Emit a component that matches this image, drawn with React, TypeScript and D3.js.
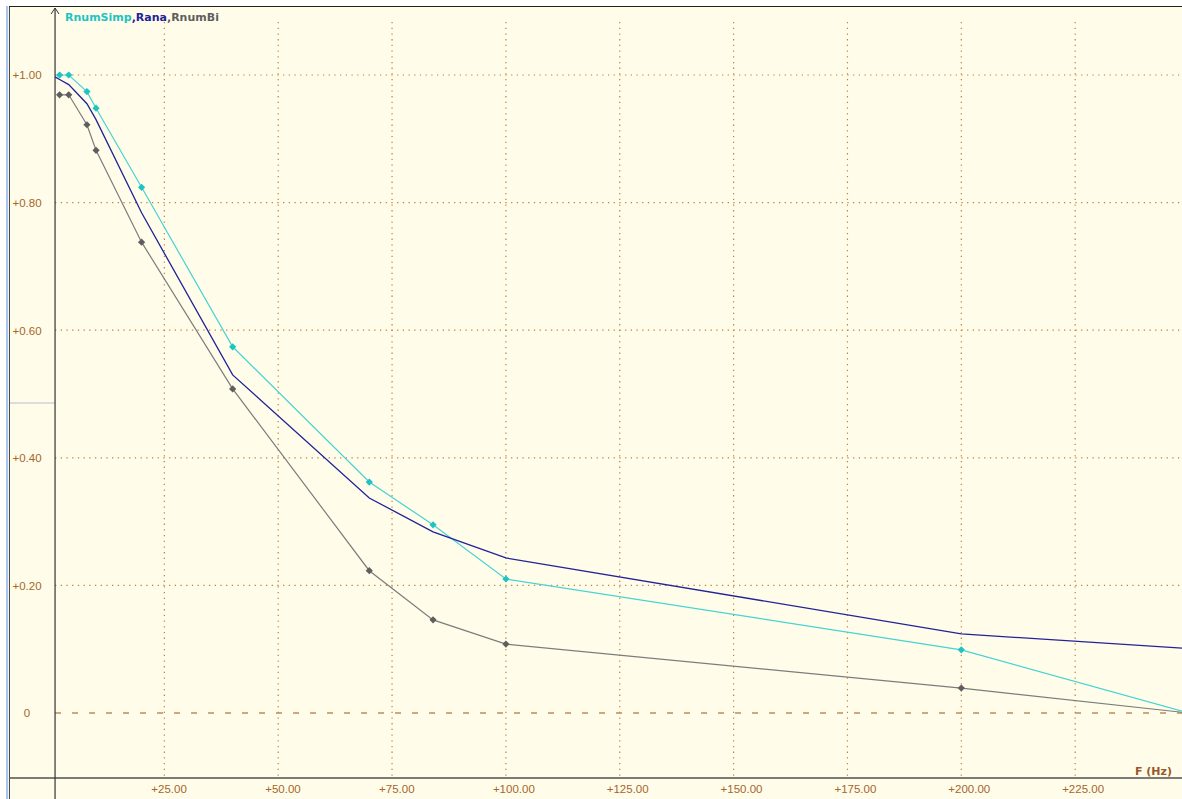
import React from "react";
import * as d3 from "d3";

// Frequencies (Hz) of the sampled points
const freqPts: number[] = [2, 4, 8, 10, 20, 40, 70, 84, 100, 200, 250];
const freqRana: number[] = [1, 2, 4, 8, 10, 20, 40, 70, 84, 100, 200, 250];

// Series values
const rnumSimp: number[] = [1.0, 1.0, 0.974, 0.948, 0.824, 0.574, 0.362, 0.295, 0.21, 0.099, 0.0];
const rana: number[] = [0.997, 0.993, 0.985, 0.955, 0.93, 0.784, 0.53, 0.337, 0.284, 0.243, 0.124, 0.101];
const rnumBi: number[] = [0.969, 0.969, 0.922, 0.882, 0.738, 0.508, 0.223, 0.146, 0.108, 0.039, 0.0];

// Axis ticks
const xTicks: number[] = [25, 50, 75, 100, 125, 150, 175, 200, 225];
const yTicks: number[] = [0, 0.2, 0.4, 0.6, 0.8, 1.0];

const W = 1182;
const H = 799;

const C_SIMP = "#1ec3c3";
const C_SIMP_LINE = "#45d3d3";
const C_RANA = "#22229a";
const C_BI = "#5e5e5e";
const C_BI_LINE = "#7c7c7c";
const C_TEXT = "#a5652d";
const C_GRID = "#c27f3e";
const C_BG = "#fffde9";

export default function App() {
  const x = d3.scaleLinear().domain([0, 250]).range([50.5, 50.5 + 250 * 4.554]);
  const y = d3.scaleLinear().domain([0, 1]).range([713, 75]);
  const axisX = x(1);
  const axisY = 778;

  const line = d3
    .line<[number, number]>()
    .x((d) => x(d[0]))
    .y((d) => y(d[1]));

  // square diamond marker (a square turned 45 degrees)
  const marker = d3.symbol().type(d3.symbolSquare).size(26)() || "";

  const simpPts: [number, number][] = freqPts.map((f, i) => [f, rnumSimp[i]]);
  const biPts: [number, number][] = freqPts.map((f, i) => [f, rnumBi[i]]);
  const ranaPts: [number, number][] = freqRana.map((f, i) => [f, rana[i]]);

  const fmt = (v: number) => (v === 0 ? "0" : "+" + v.toFixed(2));

  return (
    <svg
      width={W}
      height={H}
      style={{ position: "absolute", left: 0, top: 0, display: "block" }}
    >
      <rect x={0} y={0} width={W} height={H} fill="#ffffff" />
      <rect x={9} y={6} width={W - 9} height={H - 6} fill={C_BG} />
      {/* frame */}
      <rect x={6} y={6} width={2.2} height={H - 6} fill="#a9c6e6" />
      <line x1={9.5} y1={6} x2={9.5} y2={H} stroke="#4a4a4a" strokeWidth={1} />
      <line x1={9} y1={6.5} x2={W} y2={6.5} stroke="#222" strokeWidth={1.2} />
      <line x1={10} y1={403} x2={55} y2={403} stroke="#dcdcdc" strokeWidth={2} />

      {/* vertical grid */}
      {xTicks.map((t) => (
        <line
          key={"vx" + t}
          x1={x(t)}
          x2={x(t)}
          y1={22}
          y2={axisY}
          stroke={C_GRID}
          strokeWidth={1.2}
          strokeDasharray="1.3,4.4"
        />
      ))}
      {/* horizontal grid */}
      {yTicks
        .filter((t) => t > 0)
        .map((t) => (
          <line
            key={"hy" + t}
            x1={axisX}
            x2={W}
            y1={y(t)}
            y2={y(t)}
            stroke={C_GRID}
            strokeWidth={1.2}
            strokeDasharray="1.3,4.4"
          />
        ))}
      {/* zero line */}
      <line
        x1={axisX}
        x2={W}
        y1={y(0)}
        y2={y(0)}
        stroke="#c08a55"
        strokeWidth={1.6}
        strokeDasharray="6,11"
      />

      {/* axes */}
      <line x1={9} x2={W} y1={axisY} y2={axisY} stroke="#505050" strokeWidth={1.6} />
      <line x1={axisX} x2={axisX} y1={8} y2={H} stroke="#333" strokeWidth={1.2} />
      <path
        d={`M${axisX - 4},${14} L${axisX},${8} L${axisX + 4},${14}`}
        fill="none"
        stroke="#333"
        strokeWidth={1}
      />

      {/* y tick labels */}
      {yTicks.map((t) => (
        <text
          key={"ly" + t}
          x={27}
          y={y(t) + 4.3}
          textAnchor="middle"
          fill={C_TEXT}
          fontFamily="'Liberation Sans', Arial, sans-serif"
          fontSize={11.5}
        >
          {fmt(t)}
        </text>
      ))}
      {/* x tick labels */}
      {xTicks.map((t) => (
        <text
          key={"lx" + t}
          x={x(t) - 13}
          y={793.3}
          textAnchor="start"
          fill={C_TEXT}
          fontFamily="'Liberation Sans', Arial, sans-serif"
          fontSize={11.5}
        >
          {fmt(t)}
        </text>
      ))}
      <text
        x={1135}
        y={774.5}
        fill="#98582a"
        fontFamily="'DejaVu Sans', Verdana, sans-serif"
        fontWeight="bold"
        fontSize={11}
      >
        F (Hz)
      </text>

      {/* series */}
      <path d={line(biPts) || ""} fill="none" stroke={C_BI_LINE} strokeWidth={1.2} />
      <path d={line(simpPts) || ""} fill="none" stroke={C_SIMP_LINE} strokeWidth={1.2} />
      <path d={line(ranaPts) || ""} fill="none" stroke={C_RANA} strokeWidth={1.3} />
      {biPts.map((p, i) => (
        <path
          key={"bm" + i}
          d={marker}
          transform={`translate(${x(p[0])},${y(p[1])}) rotate(45)`}
          fill={C_BI}
        />
      ))}
      {simpPts.map((p, i) => (
        <path
          key={"sm" + i}
          d={marker}
          transform={`translate(${x(p[0])},${y(p[1])}) rotate(45)`}
          fill={C_SIMP}
        />
      ))}

      {/* legend */}
      <text
        x={65}
        y={20.5}
        fontFamily="'DejaVu Sans', Verdana, sans-serif"
        fontWeight="bold"
        fontSize={11}
      >
        <tspan fill={C_SIMP}>RnumSimp</tspan>
        <tspan fill={C_RANA}>,</tspan>
        <tspan fill={C_RANA}>Rana</tspan>
        <tspan fill={C_BI}>,RnumBi</tspan>
      </text>
    </svg>
  );
}
